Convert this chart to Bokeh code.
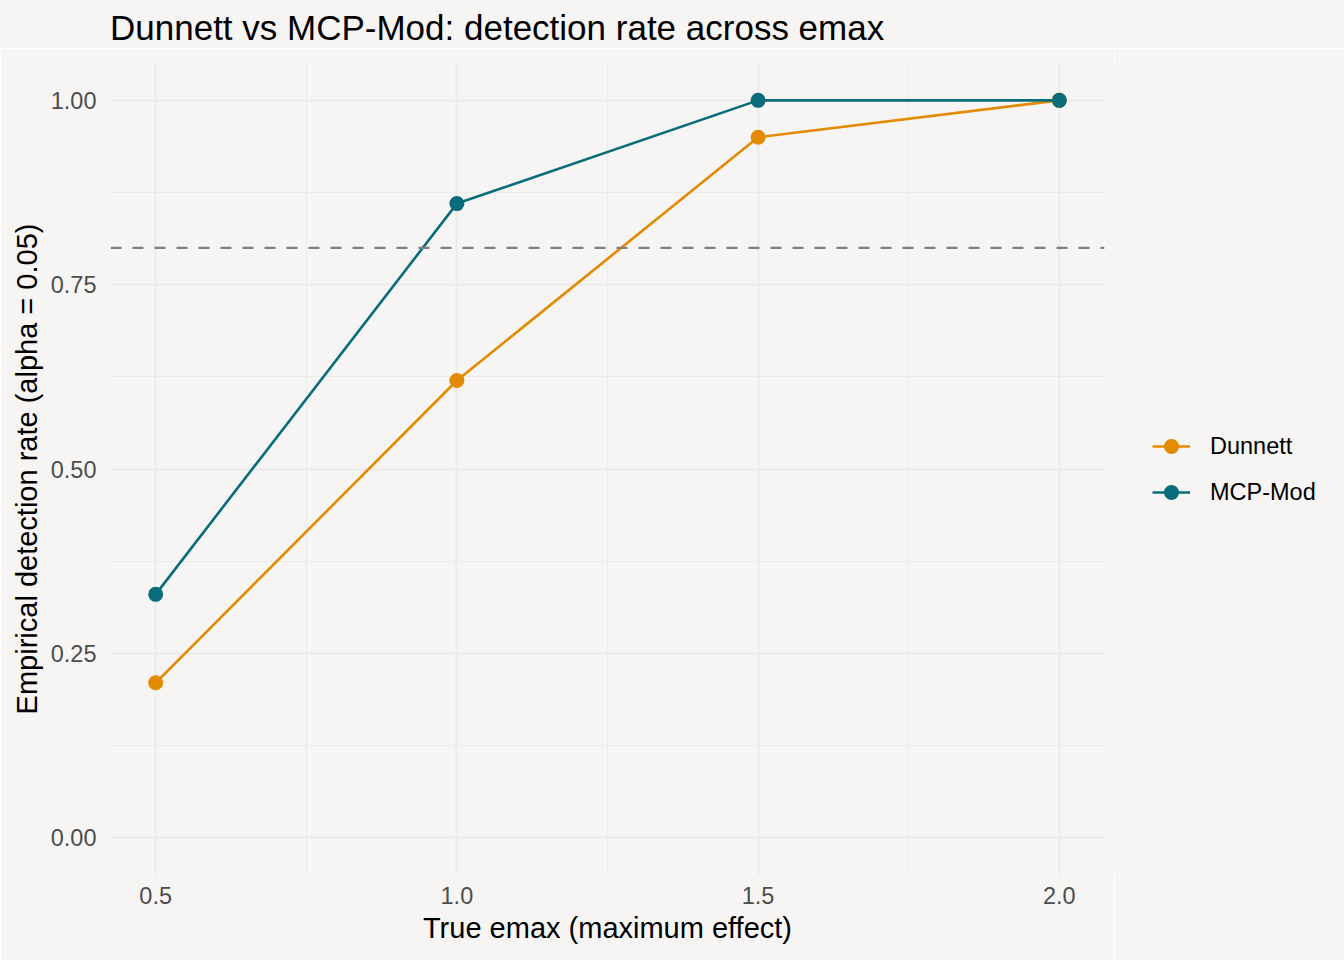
from bokeh.plotting import figure
from bokeh.layouts import row, column
from bokeh.models import FixedTicker, Legend, LegendItem, Span, Range1d, Div
from bokeh.embed import file_html
from bokeh.resources import INLINE

# ---- data ----
emax = [0.5, 1.0, 1.5, 2.0]
dunnett = [0.21, 0.62, 0.95, 1.00]
mcpmod = [0.33, 0.86, 1.00, 1.00]
target_power = 0.8
x_ticks = [0.5, 1.0, 1.5, 2.0]
x_minor = [0.75, 1.25, 1.75]
y_ticks = [0.0, 0.25, 0.5, 0.75, 1.0]
y_minor = [0.125, 0.375, 0.625, 0.875]
x_tick_labels = ["0.5", "1.0", "1.5", "2.0"]
y_tick_labels = ["0.00", "0.25", "0.50", "0.75", "1.00"]
series_names = ["Dunnett", "MCP-Mod"]
title_text = "Dunnett vs MCP-Mod: detection rate across emax"

BG = "#F6F5F3"
GRID = "#EBEBEB"
ORANGE = "#E38A00"
TEAL = "#086C7A"
FONT = "Liberation Sans"

TITLE_H = 48
PLOT_H = 960 - TITLE_H
MAIN_W = 1114

title = Div(text=title_text, width=1344, height=TITLE_H, margin=0,
            styles={"font-family": FONT, "font-size": "35px", "color": "black",
                    "line-height": "40px", "padding-top": "8px",
                    "padding-left": "110px", "box-sizing": "border-box",
                    "background-color": BG, "white-space": "nowrap"})

p = figure(width=MAIN_W, height=PLOT_H, output_backend="svg", toolbar_location=None,
           x_range=Range1d(0.425, 2.075), y_range=Range1d(-0.05, 1.05),
           min_border_left=110, min_border_right=10, min_border_top=63 - TITLE_H,
           min_border_bottom=86)
p.background_fill_color = BG
p.border_fill_color = BG
p.outline_line_color = None

# axes
p.xaxis.ticker = FixedTicker(ticks=x_ticks, minor_ticks=x_minor)
p.yaxis.ticker = FixedTicker(ticks=y_ticks, minor_ticks=y_minor)
p.xaxis.major_label_overrides = {t: l for t, l in zip(x_ticks, x_tick_labels)}
p.yaxis.major_label_overrides = {t: l for t, l in zip(y_ticks, y_tick_labels)}
for ax in (p.xaxis, p.yaxis):
    ax.axis_line_color = None
    ax.major_tick_line_color = None
    ax.minor_tick_line_color = None
    ax.major_tick_out = 0
    ax.major_tick_in = 0
    ax.minor_tick_out = 0
    ax.minor_tick_in = 0
    ax.major_label_text_font = FONT
    ax.major_label_text_font_size = "23.5px"
    ax.major_label_text_color = "#4D4D4D"
    ax.axis_label_text_font = FONT
    ax.axis_label_text_font_size = "29px"
    ax.axis_label_text_font_style = "normal"
    ax.axis_label_text_color = "black"
p.xaxis.axis_label = "True emax (maximum effect)"
p.yaxis.axis_label = "Empirical detection rate (alpha = 0.05)"
p.xaxis.major_label_standoff = 12
p.yaxis.major_label_standoff = 14
p.xaxis.axis_label_standoff = 5
p.yaxis.axis_label_standoff = 5

# grid
for g in (p.xgrid, p.ygrid):
    g.grid_line_color = GRID
    g.grid_line_width = 2
    g.minor_grid_line_color = GRID
    g.minor_grid_line_width = 1

# reference line
p.add_layout(Span(location=target_power, dimension="width", line_color="#7F7F7F",
                  line_width=2.2, line_dash="11 11"))

p.line(emax, dunnett, line_color=ORANGE, line_width=2.6)
p.line(emax, mcpmod, line_color=TEAL, line_width=2.6)
p.scatter(emax, dunnett, size=15, fill_color=ORANGE, line_color=None)
p.scatter(emax, mcpmod, size=15, fill_color=TEAL, line_color=None)

# ---- legend panel (separate figure to the right) ----
LEG_W = 1344 - MAIN_W
# ranges chosen so the proxy series lie outside the view (legend keys only)
pl = figure(width=LEG_W, height=PLOT_H, output_backend="svg", toolbar_location=None,
            x_range=Range1d(10, 11), y_range=Range1d(10, 11),
            min_border_left=0, min_border_right=0, min_border_top=63 - TITLE_H,
            min_border_bottom=86)
pl.axis.visible = False
pl.grid.visible = False
pl.outline_line_color = None
pl.background_fill_color = BG
pl.border_fill_color = BG
k1 = pl.line(emax, dunnett, line_color=ORANGE, line_width=2.6)
k2 = pl.line(emax, mcpmod, line_color=TEAL, line_width=2.6)
m1 = pl.scatter(emax, dunnett, size=15, fill_color=ORANGE, line_color=None)
m2 = pl.scatter(emax, mcpmod, size=15, fill_color=TEAL, line_color=None)

legend = Legend(items=[LegendItem(label=series_names[0], renderers=[k1, m1]),
                       LegendItem(label=series_names[1], renderers=[k2, m2])],
                location=(38, 362), orientation="vertical")
legend.background_fill_alpha = 0
legend.border_line_color = None
legend.padding = 0
legend.margin = 0
legend.spacing = 6
legend.glyph_width = 38
legend.glyph_height = 40
legend.label_height = 40
legend.label_standoff = 20
legend.label_text_font = FONT
legend.label_text_font_size = "23.5px"
legend.label_text_color = "black"
pl.add_layout(legend, "center")

layout = column(title, row(p, pl, spacing=0), spacing=0)
open("out.html", "w").write(file_html(layout, INLINE))
